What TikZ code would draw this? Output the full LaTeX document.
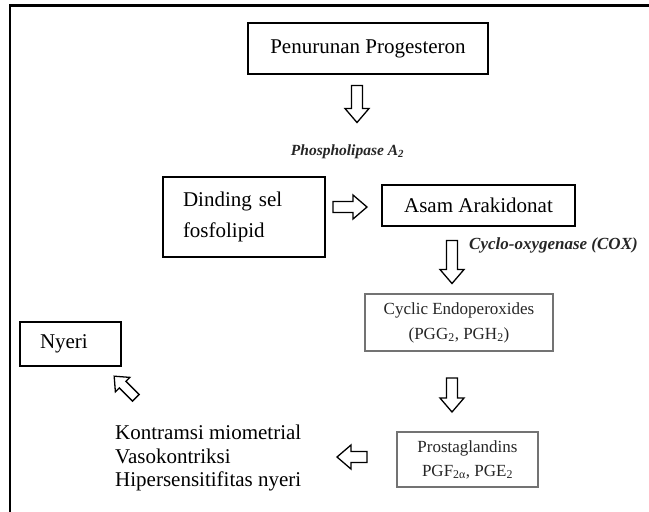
\documentclass[tikz,border=0pt]{standalone}
\usepackage{fontspec}
\setmainfont{Liberation Serif}
\begin{document}
\begin{tikzpicture}[x=1pt,y=1pt,
  box/.style={draw, line width=1.1pt, inner sep=0pt, font=\fontsize{21}{24}\selectfont},
  graybox/.style={draw=black!55, line width=1.1pt, inner sep=0pt, text=black!85, align=center, font=\fontsize{17}{25}\selectfont},
  enzyme/.style={font=\fontsize{15.5}{18}\selectfont\bfseries\itshape, text=black!85, inner sep=0pt},
  arrowline/.style={draw, line width=1.3pt, fill=white, line join=miter},
  pics/barrow/.style={code={
    \draw[arrowline] (-#1/2,-5.5) -- (#1/2-14,-5.5) -- (#1/2-14,-12) -- (#1/2,0)
      -- (#1/2-14,12) -- (#1/2-14,5.5) -- (-#1/2,5.5) -- cycle;}}
]
\useasboundingbox (0,0) rectangle (649,-512);
\fill[white] (0,0) rectangle (649,-512);
% frame (only top and left edges visible)
\coordinate (fbl) at (10,-512);
\coordinate (ftl) at (10,-5.5);
\coordinate (ftr) at (649,-5.5);
\draw[line width=2.2pt] (fbl) -- (ftl) -- (ftr);

% boxes
\node[box, minimum width=240, minimum height=51] (pp) at (368,-48.5) {Penurunan Progesteron};
\node[box, minimum width=162, minimum height=80, text width=122, inner xsep=20, align=left,
      font=\fontsize{21}{31}\selectfont] (ds) at (244,-217) {Dinding sel\\fosfolipid};
\node[box, minimum width=193, minimum height=41] (aa) at (478.5,-205.5) {Asam Arakidonat};
\node[graybox, minimum width=188, minimum height=57] (ce) at (459,-322.5)
  {Cyclic Endoperoxides\\(PGG\textsubscript{2}, PGH\textsubscript{2})};
\node[graybox, minimum width=141, minimum height=55, font=\fontsize{17}{24}\selectfont] (pg) at (467.5,-459.5)
  {Prostaglandins\\PGF\textsubscript{2α}, PGE\textsubscript{2}};
\node[box, minimum width=101, minimum height=44, text width=61, inner xsep=20, align=left] (ny) at (70.5,-344) {Nyeri};

% texts
\node[enzyme] (pla) at (347.5,-152) {Phospholipase A\textsubscript{2}};
\node[enzyme, anchor=west, font=\fontsize{17}{20}\selectfont\bfseries\itshape] (cox) at (469,-245) {Cyclo-oxygenase (COX)};
\node[anchor=west, align=left, inner sep=0pt, font=\fontsize{21}{23.5}\selectfont] (eff) at (115,-458)
  {Kontramsi miometrial\\Vasokontriksi\\Hipersensitifitas nyeri};

% block arrows
\pic[rotate=-90] at (357,-104) {barrow=37};
\pic at (350,-207) {barrow=34};
\pic[rotate=-90] at (452,-262) {barrow=43};
\pic[rotate=-90] at (452,-395) {barrow=34};
\pic[rotate=180] at (352,-457) {barrow=30};
\pic[rotate=135, scale=0.85] at (125,-387) {barrow=36};
\end{tikzpicture}
\end{document}
